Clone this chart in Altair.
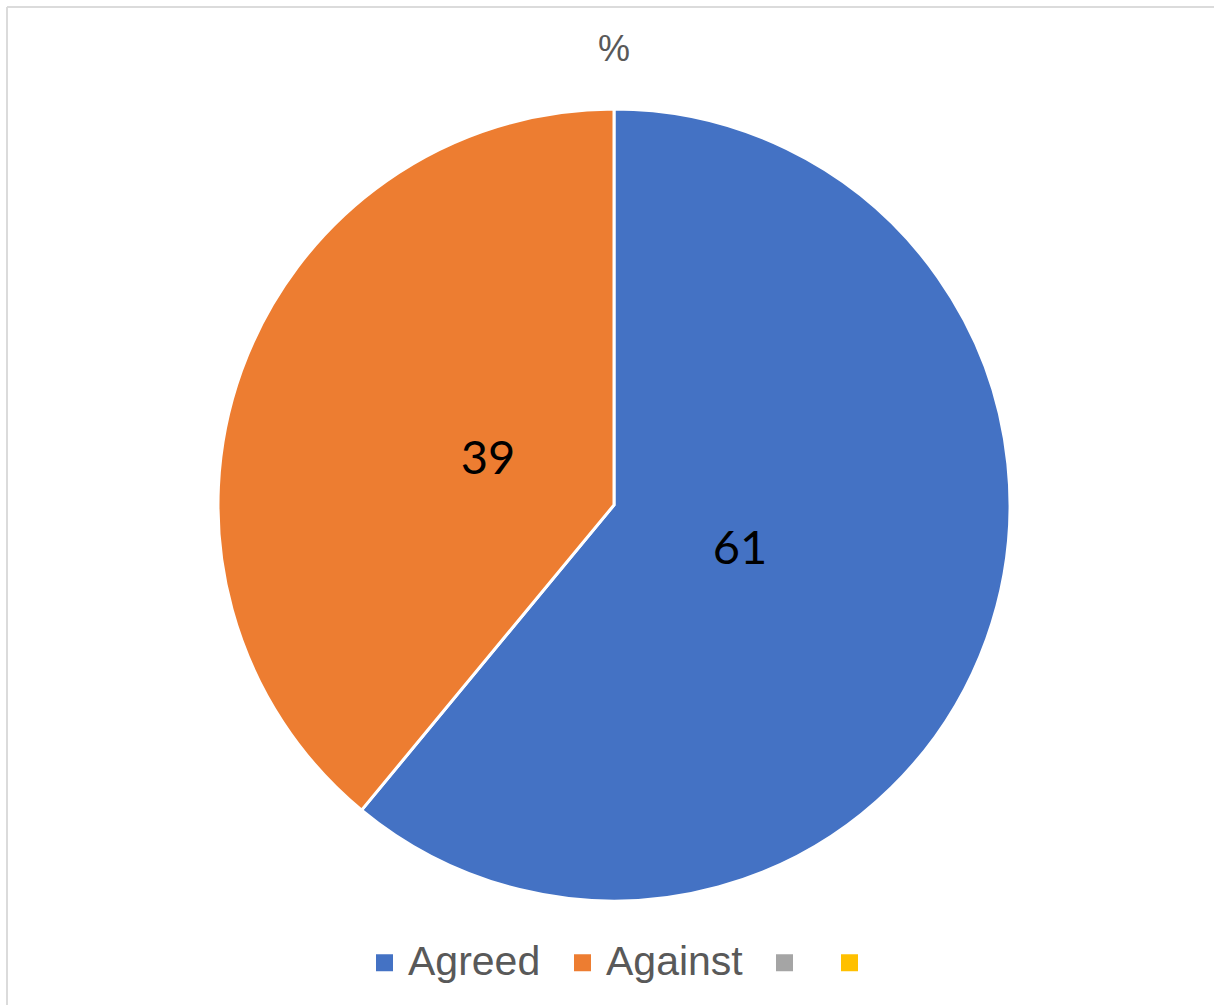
import altair as alt
import pandas as pd

categories = ["Agreed", "Against"]
values = [61, 39]
order_idx = [1, 2]
legend_domain = ["Agreed", "Against", "Series3", "Series4"]
legend_colors = ["#4472C4", "#ED7D31", "#A5A5A5", "#FFC000"]
chart_title = "%"

df = pd.DataFrame({"category": categories, "value": values, "idx": order_idx})
title_df = pd.DataFrame({"t": [chart_title]})

W, H = 1207, 998
cx, cy = 607, 498

base = alt.Chart(df)

theta = alt.Theta("value:Q", stack=True)
order = alt.Order("idx:Q")

pie = base.mark_arc(outerRadius=396, stroke="white", strokeWidth=3).encode(
    theta=theta,
    order=order,
    x=alt.value(cx),
    y=alt.value(cy),
    color=alt.Color(
        "category:N",
        scale=alt.Scale(domain=legend_domain, range=legend_colors),
        legend=alt.Legend(
            title=None,
            orient="none",
            direction="horizontal",
            legendX=357,
            legendY=935,
            symbolType="square",
            symbolSize=289,
            symbolStrokeWidth=0,
            labelFont="Liberation Sans",
            labelFontSize=41,
            labelColor="#595959",
            labelOffset=3,
            columnPadding=21,
            padding=0,
            labelExpr="indexof(['Agreed','Against'], datum.label) >= 0 ? datum.label : ''",
        ),
    ),
)

labels = base.mark_text(
    radius=134, font="Lato", fontSize=47, color="black", baseline="middle", align="center"
).encode(
    theta=theta,
    order=order,
    x=alt.value(cx),
    y=alt.value(cy),
    text=alt.Text("value:Q"),
)

title = alt.Chart(title_df).mark_text(
    font="Liberation Sans", fontSize=36, color="#595959", baseline="middle", align="center"
).encode(x=alt.value(cx), y=alt.value(43), text="t:N")

border_top = base.mark_rule(color="#d9d9d9", strokeWidth=1.5).encode(
    x=alt.value(0), x2=alt.value(W + 20), y=alt.value(0)
)
border_left = base.mark_rule(color="#d9d9d9", strokeWidth=1.5).encode(
    x=alt.value(0), y=alt.value(0), y2=alt.value(H + 20)
)

chart = alt.layer(border_top, border_left, pie, labels, title).properties(
    width=W,
    height=H,
    autosize=alt.AutoSizeParams(type="none"),
    padding={"left": 7, "top": 7, "right": 0, "bottom": 0},
).configure_view(stroke=None)

chart.save("out.html", embed_options={"renderer": "svg", "actions": False})
